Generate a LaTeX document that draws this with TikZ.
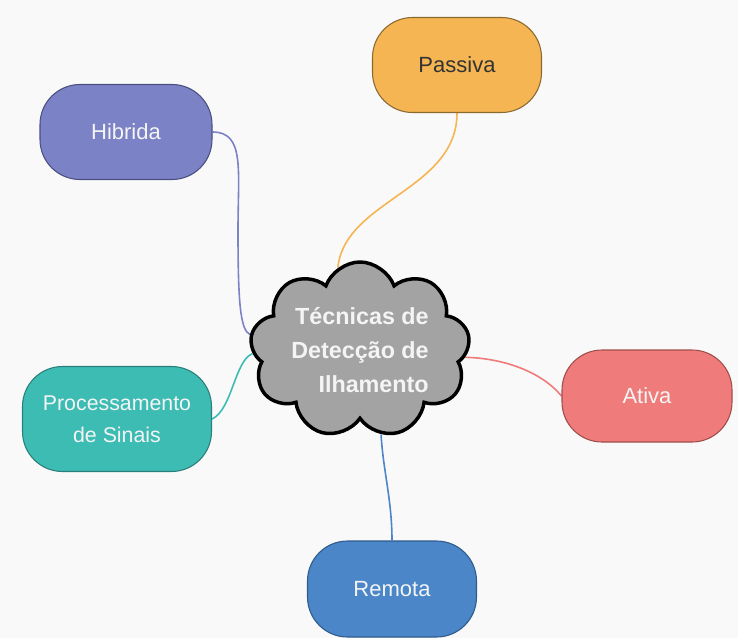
\documentclass[tikz,border=0pt]{standalone}
\usepackage{fontspec}
\setmainfont{Liberation Sans}
\usetikzlibrary{shapes.symbols}
\pgfdeclarelayer{bg}
\pgfdeclarelayer{edges}
\pgfsetlayers{bg,edges,main}

\definecolor{pasFill}{HTML}{F5B553}\definecolor{pasLine}{HTML}{8A6A30}
\definecolor{hibFill}{HTML}{7C82C6}\definecolor{hibLine}{HTML}{4A4F80}
\definecolor{proFill}{HTML}{3DBCB4}\definecolor{proLine}{HTML}{2A7F7A}
\definecolor{atiFill}{HTML}{EF7C7A}\definecolor{atiLine}{HTML}{A04E4C}
\definecolor{remFill}{HTML}{4A86C8}\definecolor{remLine}{HTML}{2F5A8C}
\definecolor{cloudFill}{HTML}{A3A3A3}
\definecolor{pageBg}{HTML}{F9F9F9}
\definecolor{darkText}{HTML}{333333}
\definecolor{lightText}{HTML}{F4F4F4}

\tikzset{
  topic/.style={rounded corners=30pt, line width=0.8pt, align=center,
    minimum width=126.75pt, minimum height=71.25pt, inner sep=2pt,
    font=\fontsize{16.5}{24}\selectfont, text=lightText},
  link/.style={line width=1.2pt},
  hub/.style={cloud, cloud puffs=9, cloud puff arc=140, cloud ignores aspect,
    minimum width=165pt, minimum height=132pt, fill=cloudFill, draw=black,
    line width=2.6pt, align=right, text=lightText, inner sep=0pt,
    font=\bfseries\fontsize{17.5}{25.5}\selectfont}
}

\begin{document}
\begin{tikzpicture}[x=0.75pt,y=-0.75pt]
  \begin{pgfonlayer}{bg}
    \fill[pageBg] (0,0) rectangle (738,638);
  \end{pgfonlayer}
  \useasboundingbox (0,0) rectangle (738,638);

  % central idea
  \node[hub, shape border rotate=10] (core) at (360,350) {T\'ecnicas de\\Detec\c{c}\~ao de\\Ilhamento};

  % branches
  \node[topic, fill=pasFill, draw=pasLine, text=darkText] (pas) at (457,65) {Passiva};
  \node[topic, fill=hibFill, draw=hibLine, minimum width=129pt] (hib) at (126,132) {Hibrida};
  \node[topic, fill=proFill, draw=proLine, minimum width=141.75pt, minimum height=78.75pt,
        font=\fontsize{16}{24}\selectfont] (pro) at (117,419) {Processamento\\de Sinais};
  \node[topic, fill=atiFill, draw=atiLine, minimum width=127.5pt, minimum height=69pt] (ati) at (647,396) {Ativa};
  \node[topic, fill=remFill, draw=remLine, minimum height=72pt] (rem) at (392,589) {Remota};

  % connectors, kept under the nodes
  \begin{pgfonlayer}{edges}
    \draw[link, pasFill] (pas.south) .. controls (457,190) and (345,200) .. (core.105);
    \draw[link, hibFill] (hib.east) .. controls (245,132) and (238,170) .. (238,230)
                                     .. controls (238,300) and (240,330) .. (core.172);
    \draw[link, proFill] (pro.east) .. controls (232,410) and (235,360) .. (core.182);
    \draw[link, atiFill] (ati.west) .. controls (540,370) and (500,358) .. (core.-4);
    \draw[link, remFill] (rem.north) .. controls (392,500) and (383,470) .. (core.-76);
  \end{pgfonlayer}
\end{tikzpicture}
\end{document}
